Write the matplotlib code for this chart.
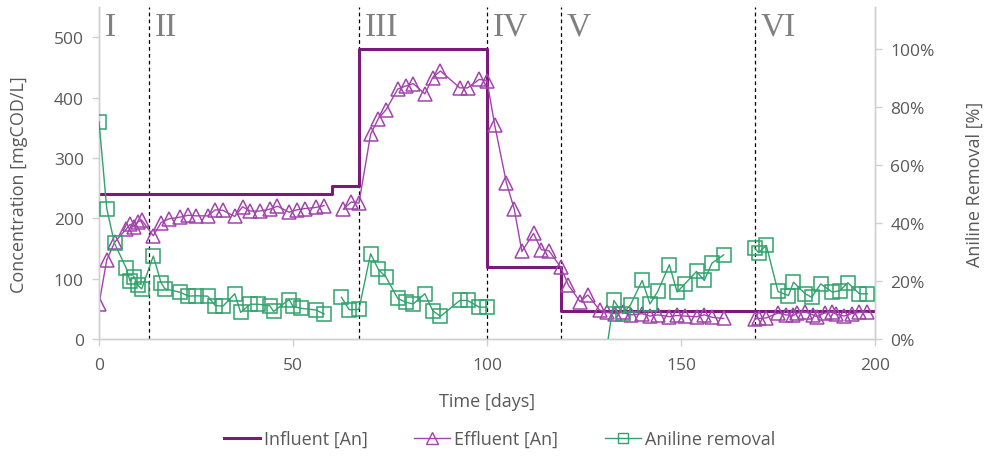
import numpy as np
import matplotlib
matplotlib.use("Agg")
import matplotlib.pyplot as plt
from matplotlib.ticker import FuncFormatter
from matplotlib.lines import Line2D

# Influent aniline concentration (step profile, mgCOD/L)
influent_days = [0, 60, 67, 100, 119, 200]
influent_conc = [240, 253, 480, 120, 47, 47]

# Effluent aniline concentration (mgCOD/L); NaN marks a sampling gap
effluent_days = [0, 2, 4, 7, 8, 9, 10, 11, 14, 16, 18, 21, 23, 25, 28, 30, 32, 35,
                 37, 39, 41.5, 44, 46, 49, 51, 53, 56, 58, 60, 63, 65, 67, 70, 72,
                 74, 77, 79, 81, 84, 86, 88, 93, 95, 98, 100, 102, 105, 107, 109,
                 112, 114, 116, 119, 121, 124, 126, 129, 131, 133, 135, 137, 140,
                 142, 144, 147, 149, 151, 154, 156, 158, 161, 165, 169, 170, 172,
                 175, 177, 179, 180, 182, 184, 185, 187, 189, 190, 192, 194, 196, 198]
effluent_conc = [58, 131, 160, 182, 190, 186, 194, 197, 171, 193, 199, 202, 205, 204,
                 204, 214, 213, 203, 219, 212, 212, 215, 220, 210, 214, 216, 218, 221,
                 np.nan, 215, 227, 225, 339, 365, 380, 414, 419, 423, 406, 433, 444,
                 416, 416, 430, 428, 354, 259, 216, 145, 175, 148, 146, 119, 89, 62,
                 73, 48, 44, 42, 44, 40, 42, 38, 40, 37, 39, 38, 37, 40, 36, 34,
                 np.nan, 33, 34, 35, 43, 40, 39, 43, 45, 40, 37, 43, 45, 41, 38, 42,
                 44, 44]

# Aniline removal efficiency (fraction); NaN marks a sampling gap
removal_days = [0, 2, 4, 7, 8, 9, 10, 11, 14, 16, 17, 21, 23, 25, 28, 30, 32, 35, 36.5,
                39, 41, 44, 45, 49, 50, 52, 56, 58, 60, 62.5, 64.5, 67, 70, 72, 74,
                77, 79, 81, 84, 86, 88, 93, 95, 98, 100, 110, 129, 132.7, 135, 137,
                140, 142, 144, 147, 149, 151, 154, 156, 158, 161, 165, 169, 170,
                172, 175, 177.7, 179, 182, 183.7, 186, 189, 191, 193, 196, 198]
removal_frac = [0.75, 0.45, 0.33, 0.245, 0.20, 0.215, 0.185, 0.173, 0.286, 0.194,
                0.173, 0.161, 0.148, 0.149, 0.148, 0.115, 0.114, 0.156, 0.092, 0.12,
                0.12, 0.115, 0.095, 0.136, 0.113, 0.106, 0.10, 0.086, np.nan, 0.144,
                0.101, 0.102, 0.294, 0.24, 0.213, 0.14, 0.127, 0.121, 0.156, 0.098,
                0.078, 0.133, 0.133, 0.11, 0.11, np.nan, -0.20, 0.133, 0.087, 0.118,
                0.202, 0.121, 0.164, 0.256, 0.162, 0.19, 0.233, 0.202, 0.262, 0.29,
                np.nan, 0.314, 0.298, 0.323, 0.164, 0.15, 0.196, 0.156, 0.144, 0.19,
                0.162, 0.167, 0.194, 0.156, 0.156]

# Operating phases
phase_bounds = [13, 67, 100, 119, 169]
phase_starts = [0, 13, 67, 100, 119, 169]
phase_labels = ["I", "II", "III", "IV", "V", "VI"]

C_INF = "#7b1a7b"
C_EFF = "#a244ad"
C_REM = "#2fa36b"
C_TXT = "#595959"
C_AX = "#d0d0d0"

plt.rcParams["font.family"] = ["Open Sans", "DejaVu Sans"]

fig = plt.figure(figsize=(9.87, 4.64), dpi=100)
ax = fig.add_axes([0.1003, 0.2672, 0.7862, 0.7156])
ax2 = ax.twinx()

# Concentrations on the left axis
ax.step(influent_days, influent_conc, where="post", color=C_INF, lw=2.2, zorder=3)
ax.plot(effluent_days, effluent_conc, color=C_EFF, lw=1.0, marker="^", ms=10,
        mfc="none", mec=C_EFF, mew=1.1, zorder=4)

# Removal efficiency on the right axis
ax2.plot(removal_days, removal_frac, color=C_REM, lw=1.0, marker="s", ms=9.5,
         mfc="none", mec=C_REM, mew=1.1, zorder=4)

# Phase boundaries and labels
for b in phase_bounds:
    ax.axvline(b, color="black", lw=0.9, ls=(0, (3, 2.5)), zorder=2)
for s, lab in zip(phase_starts, phase_labels):
    ax.annotate(lab, xy=(s, 0.916), xycoords=("data", "axes fraction"),
                xytext=(4, 0), textcoords="offset points", ha="left", va="baseline",
                fontsize=24, color="#808080", family="Liberation Serif")

ax.set_xlim(0, 200)
ax.set_ylim(0, 550)
ax2.set_ylim(0, 1.145)
ax.set_xticks([0, 50, 100, 150, 200])
ax.set_yticks([0, 100, 200, 300, 400, 500])
ax2.set_yticks([0, 0.2, 0.4, 0.6, 0.8, 1.0])
ax2.yaxis.set_major_formatter(FuncFormatter(lambda v, p: f"{v * 100:.0f}%"))

for a in (ax, ax2):
    for sp in a.spines.values():
        sp.set_color(C_AX)
        sp.set_linewidth(1.0)
    a.spines["top"].set_visible(False)
    a.tick_params(colors=C_AX, labelcolor=C_TXT, labelsize=12.5, length=5, width=1,
                  direction="out")
ax.tick_params(axis="x", pad=8)
ax.tick_params(axis="y", pad=6)
ax2.tick_params(axis="y", pad=6)

ax.set_xlabel("Time [days]", fontsize=13, color=C_TXT)
ax.set_ylabel("Concentration [mgCOD/L]", fontsize=13, color=C_TXT)
ax2.set_ylabel("Aniline Removal [%]", fontsize=13, color=C_TXT)
ax.xaxis.set_label_coords(0.5, -0.16)
ax.yaxis.set_label_coords(-0.092, 0.467)
ax2.yaxis.set_label_coords(1.117, 0.47)

handles = [
    Line2D([], [], color=C_INF, lw=2.2),
    Line2D([], [], color=C_EFF, lw=1.0, marker="^", ms=8, mfc="none", mec=C_EFF),
    Line2D([], [], color=C_REM, lw=1.0, marker="s", ms=7.5, mfc="none", mec=C_REM),
]
fig.legend(handles, ["Influent [An]", "Effluent [An]", "Aniline removal"],
           loc="center", bbox_to_anchor=(0.506, 0.052), ncol=3, frameon=False,
           fontsize=13, labelcolor=C_TXT, handlelength=2.0, handletextpad=0.2,
           columnspacing=2.6)

fig.savefig("out.png", dpi=100)
